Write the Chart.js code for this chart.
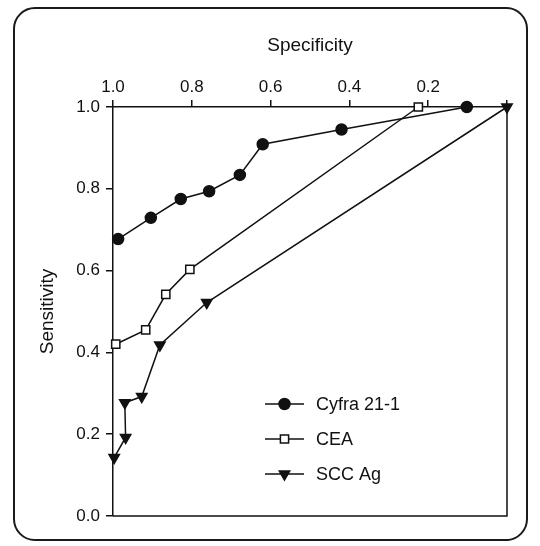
<!DOCTYPE html>
<html>
<head>
<meta charset="utf-8">
<script src="https://cdn.jsdelivr.net/npm/chart.js@4"></script>
<style>
  body { margin: 0; background: #fff; }
  #wrap { position: relative; width: 540px; height: 546px; }
  #frame {
    position: absolute; left: 13px; top: 7px; width: 515px; height: 534px;
    box-sizing: border-box; border: 2px solid #1a1a1a; border-radius: 22px;
  }
  #roc { position: absolute; left: 0; top: 0; }
</style>
</head>
<body>
<div id="wrap">
  <div id="frame"></div>
  <canvas id="roc" width="540" height="546"></canvas>
</div>
<script>
// ROC curves, specificity on the (reversed) top axis
const seriesNames = ["Cyfra 21-1", "CEA", "SCC Ag"];

const cyfraSpec = [0.987, 0.904, 0.828, 0.756, 0.678, 0.620, 0.420, 0.102];
const cyfraSens = [0.677, 0.729, 0.775, 0.794, 0.834, 0.909, 0.945, 1.0];

const ceaSpec = [0.993, 0.917, 0.866, 0.805, 0.225];
const ceaSens = [0.420, 0.455, 0.542, 0.603, 1.0];

const sccSpec = [0.997, 0.968, 0.970, 0.927, 0.881, 0.762, 0.0];
const sccSens = [0.143, 0.192, 0.277, 0.292, 0.418, 0.522, 1.0];

const axisTicks = [0, 0.2, 0.4, 0.6, 0.8, 1.0];

const INK = "#111";
const FONT = "'Liberation Sans', Arial, sans-serif";

function toPoints(xs, ys) {
  return xs.map((x, i) => ({ x: x, y: ys[i] }));
}

// right + bottom edge of the plot box
const boxPlugin = {
  id: "box",
  beforeDatasetsDraw(chart) {
    const { ctx, chartArea: a } = chart;
    ctx.save();
    ctx.strokeStyle = INK;
    ctx.lineWidth = 1.5;
    ctx.beginPath();
    ctx.moveTo(a.left, a.bottom);
    ctx.lineTo(a.right, a.bottom);
    ctx.lineTo(a.right, a.top);
    ctx.stroke();
    ctx.restore();
  },
};

// legend: short line with the marker in the middle
const rocLegend = {
  id: "rocLegend",
  afterDraw(chart, args, opts) {
    const ctx = chart.ctx;
    chart.data.datasets.forEach((ds, i) => {
      const y = opts.top + i * opts.rowGap;
      ctx.save();
      ctx.strokeStyle = INK;
      ctx.lineWidth = 1.5;
      ctx.beginPath();
      ctx.moveTo(opts.left, y);
      ctx.lineTo(opts.left + opts.lineLen, y);
      ctx.stroke();
      ctx.fillStyle = ds.pointBackgroundColor;
      Chart.helpers.drawPoint(
        ctx,
        {
          pointStyle: ds.pointStyle,
          radius: ds.pointRadius,
          rotation: ds.pointRotation || 0,
          borderWidth: 1.5,
        },
        opts.left + opts.lineLen / 2,
        y
      );
      ctx.fillStyle = INK;
      ctx.font = "18px " + FONT;
      ctx.textAlign = "left";
      ctx.textBaseline = "middle";
      ctx.fillText(ds.label, opts.left + opts.lineLen + 12, y + 1);
      ctx.restore();
    });
  },
};

const baseSet = {
  showLine: true,
  tension: 0,
  borderColor: INK,
  borderWidth: 1.5,
  pointBorderColor: INK,
  pointBorderWidth: 1.5,
  clip: false,
};

new Chart(document.getElementById("roc"), {
  type: "scatter",
  data: {
    datasets: [
      {
        ...baseSet,
        label: seriesNames[0],
        data: toPoints(cyfraSpec, cyfraSens),
        pointStyle: "circle",
        pointRadius: 5.5,
        pointBackgroundColor: INK,
      },
      {
        ...baseSet,
        label: seriesNames[1],
        data: toPoints(ceaSpec, ceaSens),
        pointStyle: "rect",
        pointRadius: 5.8,
        pointBackgroundColor: "#fff",
      },
      {
        ...baseSet,
        label: seriesNames[2],
        data: toPoints(sccSpec, sccSens),
        pointStyle: "triangle",
        pointRotation: 180,
        pointRadius: 6,
        pointBackgroundColor: INK,
      },
    ],
  },
  options: {
    responsive: false,
    animation: false,
    devicePixelRatio: 1,
    layout: { padding: { top: 0, left: 0, right: 33, bottom: 30 } },
    plugins: {
      legend: { display: false },
      tooltip: { enabled: false },
      rocLegend: { left: 265, top: 404, rowGap: 35, lineLen: 39 },
    },
    scales: {
      x: {
        type: "linear",
        position: "top",
        reverse: true,
        min: 0,
        max: 1,
        afterBuildTicks: (s) => {
          s.ticks = axisTicks.map((v) => ({ value: v }));
        },
        afterFit: (s) => {
          s.height = 107;
        },
        ticks: {
          color: INK,
          font: { family: FONT, size: 17 },
          padding: 2,
          callback: (v) => (v === 0 ? "" : Number(v).toFixed(1)),
        },
        grid: { drawOnChartArea: false, tickLength: 7, color: INK, lineWidth: 1.5 },
        border: { display: true, color: INK, width: 1.5 },
        title: {
          display: true,
          text: "Specificity",
          color: INK,
          font: { family: FONT, size: 19 },
          padding: { top: 34, bottom: 0 },
        },
      },
      y: {
        type: "linear",
        position: "left",
        min: 0,
        max: 1,
        afterBuildTicks: (s) => {
          s.ticks = axisTicks.map((v) => ({ value: v }));
        },
        afterFit: (s) => {
          s.width = 113;
        },
        ticks: {
          color: INK,
          font: { family: FONT, size: 17 },
          padding: 6,
          callback: (v) => Number(v).toFixed(1),
        },
        grid: { drawOnChartArea: false, tickLength: 7, color: INK, lineWidth: 1.5 },
        border: { display: true, color: INK, width: 1.5 },
        title: {
          display: true,
          text: "Sensitivity",
          color: INK,
          font: { family: FONT, size: 19 },
          padding: { top: 36, bottom: 0 },
        },
      },
    },
  },
  plugins: [boxPlugin, rocLegend],
});
</script>
</body>
</html>
